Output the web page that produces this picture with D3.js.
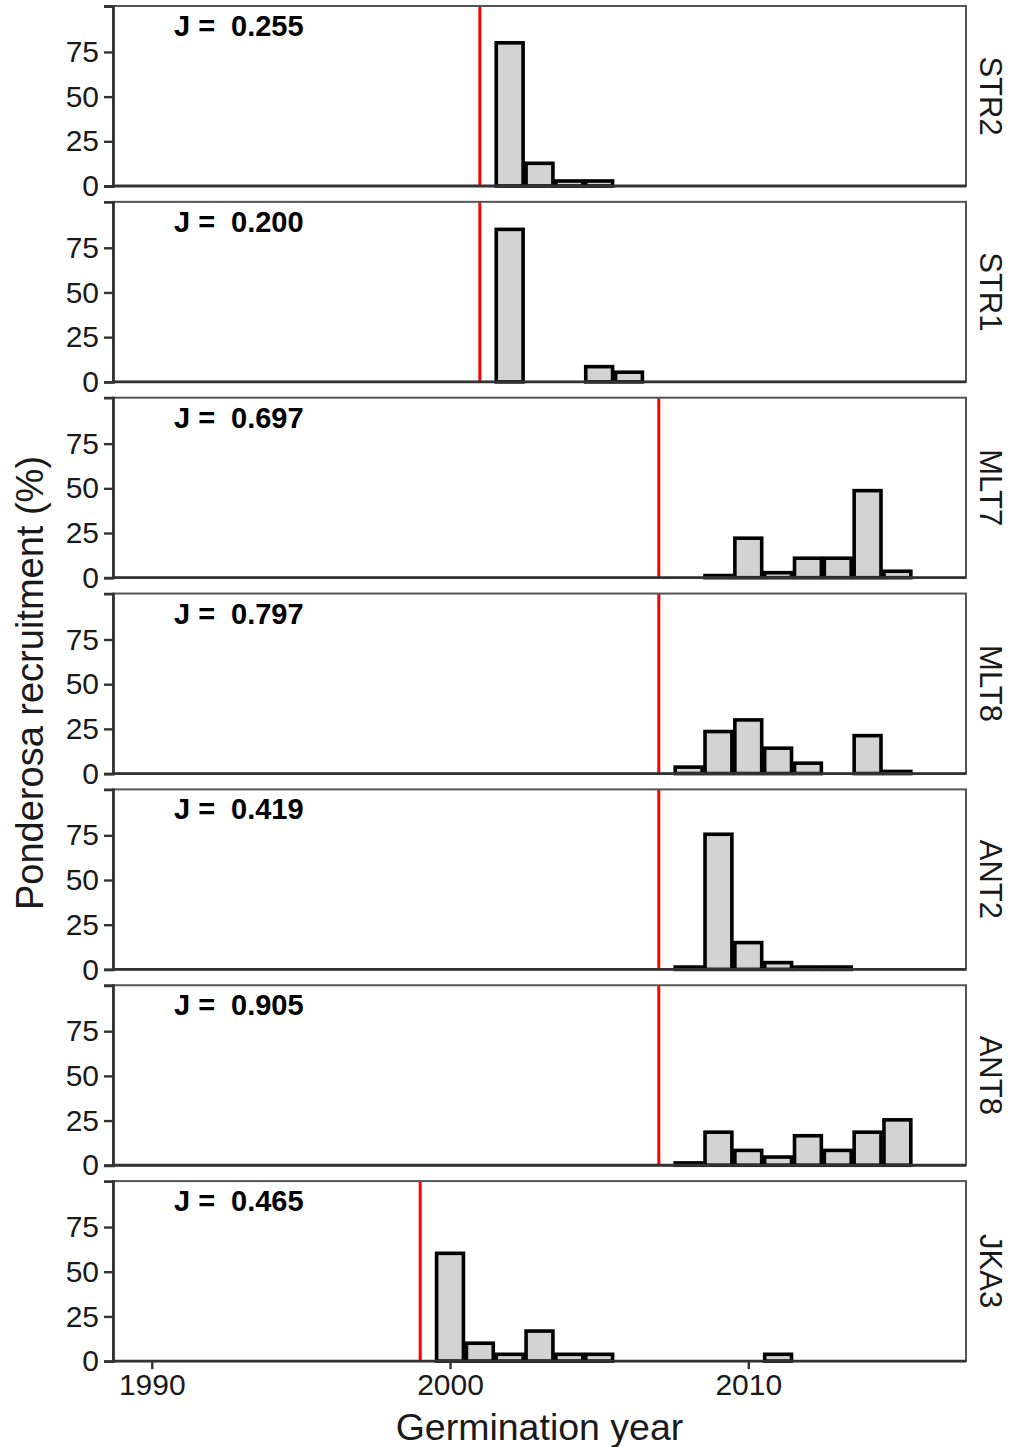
<!DOCTYPE html>
<html>
<head>
<meta charset="utf-8">
<script src="https://cdn.jsdelivr.net/npm/d3@7"></script>
<style>
  html, body { margin: 0; padding: 0; background: #fff; }
  svg { display: block; }
  text { font-family: "Liberation Sans", Arial, sans-serif; }
</style>
</head>
<body>
<div id="chart"></div>
<script>
// Site facets, top to bottom
const sites = ["STR2", "STR1", "MLT7", "MLT8", "ANT2", "ANT8", "JKA3"];
// Evenness index printed in each facet
const jValues = ["0.255", "0.200", "0.697", "0.797", "0.419", "0.905", "0.465"];
// Fire year marked by the red line in each facet
const fireYears = [2001, 2001, 2007, 2007, 2007, 2007, 1999];

// Ponderosa recruitment (%) by germination year, one array per site
const recruitSTR2 = [
  { year: 2002, pct: 80.1 }, { year: 2003, pct: 12.7 },
  { year: 2004, pct: 2.8 }, { year: 2005, pct: 2.8 }
];
const recruitSTR1 = [
  { year: 2002, pct: 85.3 }, { year: 2005, pct: 8.5 }, { year: 2006, pct: 5.4 }
];
const recruitMLT7 = [
  { year: 2009, pct: 1.2 }, { year: 2010, pct: 22.1 }, { year: 2011, pct: 2.8 },
  { year: 2012, pct: 10.9 }, { year: 2013, pct: 10.9 }, { year: 2014, pct: 48.7 },
  { year: 2015, pct: 3.6 }
];
const recruitMLT8 = [
  { year: 2008, pct: 3.6 }, { year: 2009, pct: 23.5 }, { year: 2010, pct: 30.0 },
  { year: 2011, pct: 14.2 }, { year: 2012, pct: 5.8 }, { year: 2014, pct: 21.2 },
  { year: 2015, pct: 1.2 }
];
const recruitANT2 = [
  { year: 2008, pct: 1.3 }, { year: 2009, pct: 75.6 }, { year: 2010, pct: 15.0 },
  { year: 2011, pct: 3.8 }, { year: 2012, pct: 1.3 }, { year: 2013, pct: 1.3 }
];
const recruitANT8 = [
  { year: 2008, pct: 1.3 }, { year: 2009, pct: 18.5 }, { year: 2010, pct: 8.3 },
  { year: 2011, pct: 4.6 }, { year: 2012, pct: 16.5 }, { year: 2013, pct: 8.3 },
  { year: 2014, pct: 18.5 }, { year: 2015, pct: 25.4 }
];
const recruitJKA3 = [
  { year: 2000, pct: 60.3 }, { year: 2001, pct: 10.0 }, { year: 2002, pct: 3.8 },
  { year: 2003, pct: 16.8 }, { year: 2004, pct: 3.8 }, { year: 2005, pct: 3.8 },
  { year: 2011, pct: 3.8 }
];
const recruitBySite = [recruitSTR2, recruitSTR1, recruitMLT7, recruitMLT8,
                       recruitANT2, recruitANT8, recruitJKA3];

// Axis ticks
const yearTicks = [1990, 2000, 2010];
const pctTicks = [0, 25, 50, 75];

// Layout
const width = 1011, height = 1447;
const margin = { left: 113, right: 45, top: 6 };
const panelH = 180, panelStep = 195.85;
const barWidthYears = 0.9;

const svg = d3.select("#chart").append("svg")
  .attr("width", width).attr("height", height);

const x = d3.scaleLinear()
  .domain([1988.7, 2017.3])
  .range([margin.left, width - margin.right]);
const pxPerYear = x(1) - x(0);

sites.forEach((site, i) => {
  const top = margin.top + i * panelStep;
  const bottom = top + panelH;
  const y = d3.scaleLinear().domain([0, 100.7]).range([bottom, top]);
  const g = svg.append("g").attr("class", "panel");

  // white panel background
  g.append("rect")
    .attr("x", x.range()[0]).attr("y", top)
    .attr("width", x.range()[1] - x.range()[0]).attr("height", panelH)
    .attr("fill", "#fff");

  // fire year line
  g.append("line")
    .attr("x1", x(fireYears[i])).attr("x2", x(fireYears[i]))
    .attr("y1", top).attr("y2", bottom)
    .attr("stroke", "#ff0000").attr("stroke-width", 3);

  // recruitment bars
  g.selectAll("rect.bar").data(recruitBySite[i]).join("rect")
    .attr("class", "bar")
    .attr("x", d => x(d.year - barWidthYears / 2))
    .attr("width", barWidthYears * pxPerYear)
    .attr("y", d => y(d.pct))
    .attr("height", d => y(0) - y(d.pct))
    .attr("fill", "#d3d3d3")
    .attr("stroke", "#000")
    .attr("stroke-width", 3.6);

  // panel border
  g.append("rect")
    .attr("x", x.range()[0]).attr("y", top)
    .attr("width", x.range()[1] - x.range()[0]).attr("height", panelH)
    .attr("fill", "none").attr("stroke", "#555").attr("stroke-width", 2);

  // y axis
  const yAxis = d3.axisLeft(y).tickValues(pctTicks).tickSize(9).tickPadding(5);
  const ya = g.append("g")
    .attr("transform", `translate(${x.range()[0]},0)`)
    .call(yAxis);
  ya.select(".domain").attr("stroke", "#333").attr("stroke-width", 2.8);
  ya.selectAll(".tick line").attr("stroke", "#333").attr("stroke-width", 2.4);
  ya.selectAll(".tick text")
    .attr("font-size", 30).attr("fill", "#1a1a1a")
    .attr("font-family", "Liberation Sans, Arial, sans-serif");

  // bottom axis line for every panel
  g.append("line")
    .attr("x1", x.range()[0]).attr("x2", x.range()[1])
    .attr("y1", bottom).attr("y2", bottom)
    .attr("stroke", "#333").attr("stroke-width", 2.8);

  // J label
  const jt = g.append("text")
    .attr("x", 174).attr("y", top + 30)
    .attr("font-size", 29).attr("font-weight", "bold").attr("fill", "#000");
  jt.append("tspan").text("J =");
  jt.append("tspan").attr("x", 231).text(jValues[i]);

  // facet strip label on the right
  const cy = (top + bottom) / 2;
  g.append("text")
    .attr("transform", `translate(979,${cy}) rotate(90)`)
    .attr("text-anchor", "middle")
    .attr("dy", "-0.02em")
    .attr("font-size", 31).attr("fill", "#1a1a1a")
    .text(site);

  // x axis only under the last panel
  if (i === sites.length - 1) {
    const xAxis = d3.axisBottom(x).tickValues(yearTicks).tickFormat(d3.format("d"))
      .tickSize(8).tickPadding(5);
    const xa = g.append("g")
      .attr("transform", `translate(0,${bottom})`)
      .call(xAxis);
    xa.select(".domain").remove();
    xa.selectAll(".tick line").attr("stroke", "#333").attr("stroke-width", 2.4);
    xa.selectAll(".tick text")
      .attr("font-size", 30).attr("fill", "#1a1a1a")
      .attr("font-family", "Liberation Sans, Arial, sans-serif");
  }
});

// axis titles
svg.append("text")
  .attr("x", (x.range()[0] + x.range()[1]) / 2).attr("y", 1440)
  .attr("text-anchor", "middle")
  .attr("font-size", 37.5).attr("fill", "#1a1a1a")
  .text("Germination year");

svg.append("text")
  .attr("transform", `translate(43,683) rotate(-90)`)
  .attr("text-anchor", "middle")
  .attr("font-size", 38).attr("fill", "#1a1a1a")
  .text("Ponderosa recruitment (%)");
</script>
</body>
</html>
